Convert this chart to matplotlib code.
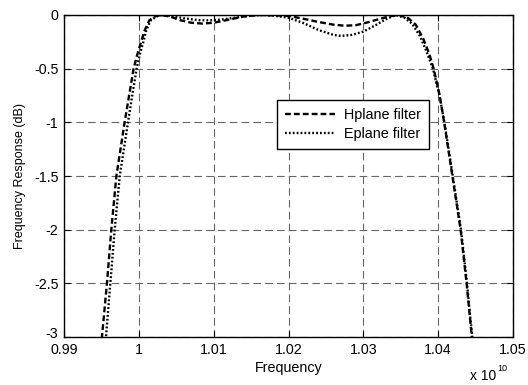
import matplotlib
matplotlib.use("Agg")
import matplotlib.pyplot as plt
from matplotlib.transforms import ScaledTranslation

plt.rcParams['font.family'] = ['Liberation Sans', 'DejaVu Sans']
plt.rcParams['lines.scale_dashes'] = False

# Frequencies in units of 1e10 Hz
h_freq = [0.99500, 0.99507, 0.99574, 0.99632, 0.99700, 0.99755, 0.99810, 0.99870,
          0.99930, 0.99975, 1.00030, 1.00080, 1.00140, 1.00220, 1.00300, 1.00420,
          1.00550, 1.00700, 1.00850, 1.01000, 1.01200, 1.01400, 1.01600, 1.01800,
          1.02000, 1.02200, 1.02400, 1.02600, 1.02750, 1.02900, 1.03050, 1.03200,
          1.03350, 1.03480, 1.03600, 1.03700, 1.03800, 1.03880, 1.03940, 1.04020,
          1.04080, 1.04135, 1.04190, 1.04245, 1.04300, 1.04380, 1.04450, 1.04460]
h_db = [-3.10, -3.00, -2.50, -2.00, -1.50, -1.25, -1.00, -0.75,
        -0.50, -0.38, -0.25, -0.14, -0.05, -0.012, 0.000, -0.015,
        -0.048, -0.072, -0.080, -0.072, -0.044, -0.014, 0.000, -0.003,
        -0.008, -0.035, -0.065, -0.090, -0.100, -0.095, -0.070, -0.040,
        -0.012, 0.000, -0.030, -0.090, -0.220, -0.360, -0.500, -0.750,
        -1.000, -1.250, -1.500, -1.750, -2.000, -2.500, -3.000, -3.10]

e_freq = [0.99550, 0.99561, 0.99619, 0.99677, 0.99745, 0.99800, 0.99855, 0.99912,
          0.99970, 1.00008, 1.00060, 1.00100, 1.00160, 1.00240, 1.00320, 1.00450,
          1.00600, 1.00800, 1.00950, 1.01100, 1.01300, 1.01500, 1.01650, 1.01800,
          1.02000, 1.02200, 1.02400, 1.02600, 1.02700, 1.02850, 1.03000, 1.03150,
          1.03300, 1.03430, 1.03550, 1.03650, 1.03760, 1.03850, 1.03930, 1.04020,
          1.04083, 1.04140, 1.04195, 1.04250, 1.04305, 1.04385, 1.04455, 1.04465]
e_db = [-3.10, -3.00, -2.50, -2.00, -1.50, -1.25, -1.00, -0.75,
        -0.50, -0.38, -0.25, -0.14, -0.05, -0.012, 0.000, -0.010,
        -0.030, -0.048, -0.050, -0.043, -0.024, -0.006, 0.000, -0.006,
        -0.025, -0.075, -0.140, -0.185, -0.195, -0.185, -0.155, -0.100,
        -0.040, 0.000, -0.025, -0.080, -0.200, -0.350, -0.500, -0.760,
        -1.000, -1.250, -1.500, -1.750, -2.000, -2.500, -3.000, -3.10]

x_ticks = [0.99, 1.00, 1.01, 1.02, 1.03, 1.04, 1.05]
x_tick_labels = ['0.99', '1', '1.01', '1.02', '1.03', '1.04', '1.05']
y_ticks = [-3, -2.5, -2, -1.5, -1, -0.5, 0]
y_tick_labels = ['-3', '-2.5', '-2', '-1.5', '-1', '-0.5', '0']

fig = plt.figure(figsize=(5.28, 3.85), dpi=100)
ax = fig.add_axes([64/528, 1 - 337/385, (513-64)/528, (337-15)/385])

ax.plot(h_freq, h_db, color='black', lw=1.7, linestyle=(0, (4.2, 2.2)),
        label='Hplane filter', dash_capstyle='butt')
ax.plot(e_freq, e_db, color='black', lw=1.7, linestyle=(0, (1.3, 1.5)),
        label='Eplane filter', dash_capstyle='butt')

ax.set_xlim(0.99, 1.05)
ax.set_ylim(-3, 0)
ax.set_xticks(x_ticks)
ax.set_xticklabels(x_tick_labels)
ax.set_yticks(y_ticks)
ax.set_yticklabels(y_tick_labels)

ax.grid(True, color='#666666', lw=0.8, linestyle=(0, (5.5, 3.0)))
ax.tick_params(direction='in', length=4, width=0.8, top=True, right=True,
               labelsize=10.3, pad=4, colors='black')
for s in ax.spines.values():
    s.set_linewidth(1.0)
    s.set_color('black')

# lift the bottom y tick label a little, as in the reference
for lab in ax.get_yticklabels():
    if lab.get_text() == '-3':
        lab.set_transform(lab.get_transform() + ScaledTranslation(0, 3/72, fig.dpi_scale_trans))

ax.set_xlabel('Frequency', fontsize=10.3, labelpad=3)
ax.set_ylabel('Frequency Response (dB)', fontsize=9.0, labelpad=6)

fig.text(470/528, 1 - 383/385, 'x 10', fontsize=10, ha='left', va='bottom')
fig.text(497/528, 1 - 373/385, '10', fontsize=6.5, ha='left', va='bottom')

leg = ax.legend(loc='upper left', bbox_to_anchor=(0.474, 0.735), borderaxespad=0,
                fontsize=10.4, frameon=True, fancybox=False, framealpha=1,
                edgecolor='black', handlelength=3.5, handletextpad=0.6,
                borderpad=0.55, labelspacing=0.35)
leg.get_frame().set_linewidth(1.0)

fig.savefig('out.png', dpi=100)
